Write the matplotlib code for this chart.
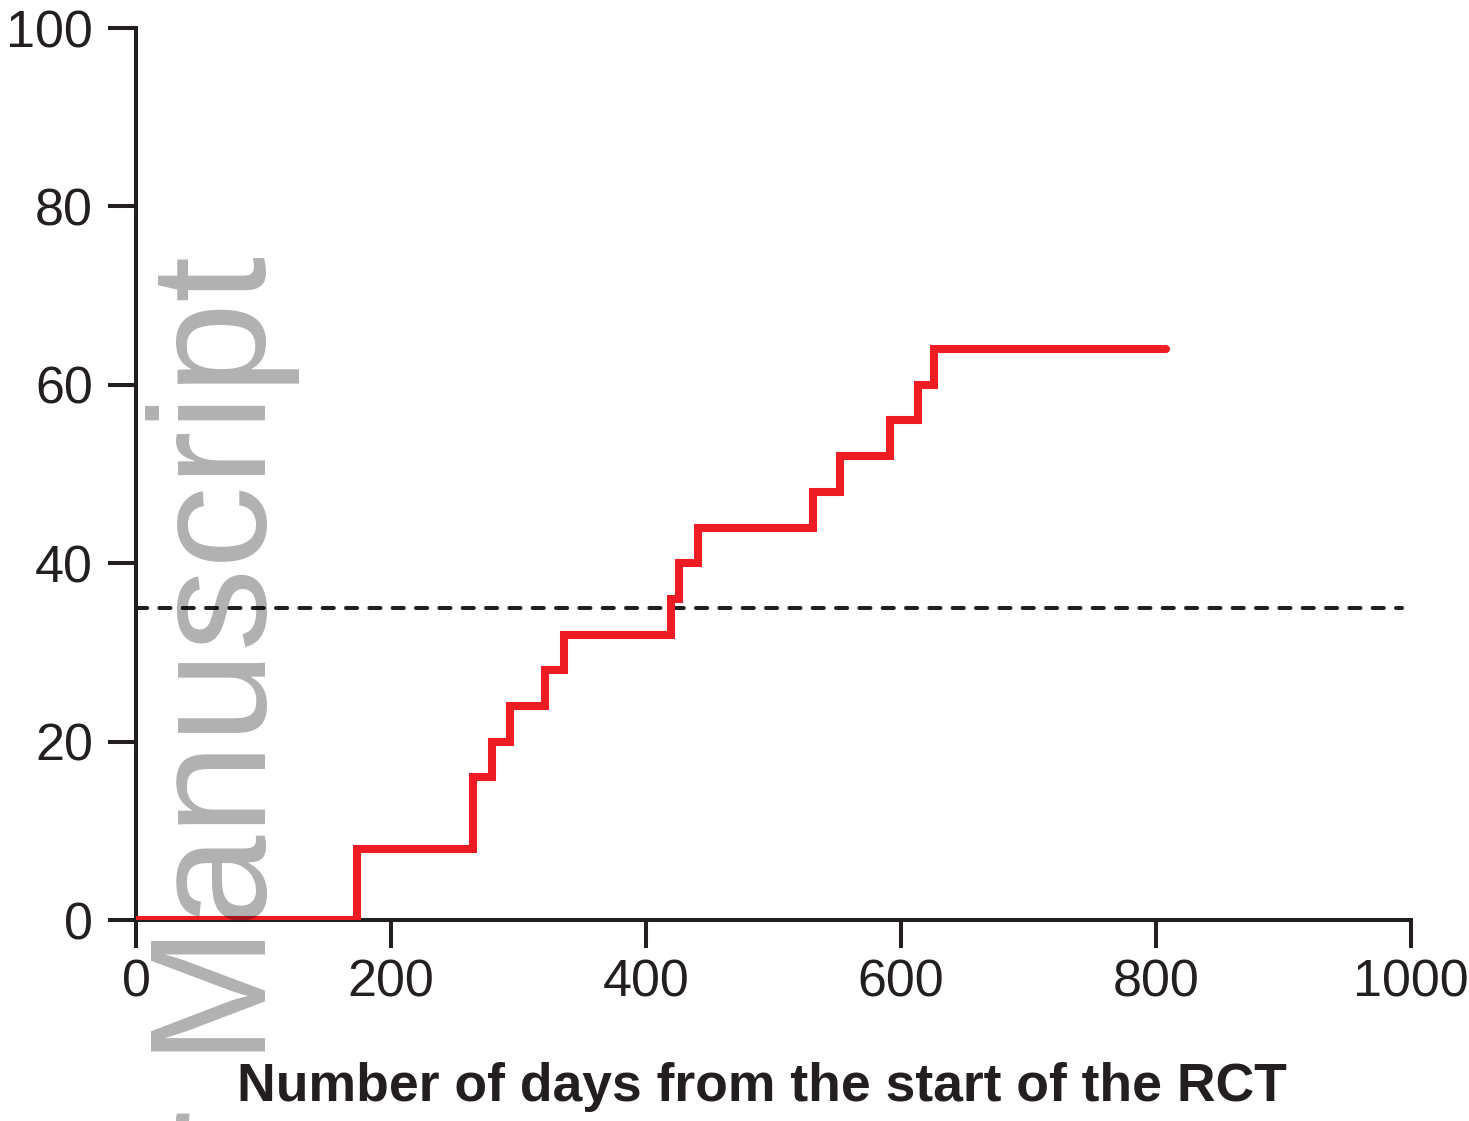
import numpy as np
import matplotlib.pyplot as plt

# Cumulative percentage over days (step function)
days = [0, 173, 264, 279, 293, 321, 336, 420, 426, 441, 531, 552, 591, 613, 626, 808]
pct = [0, 8, 16, 20, 24, 28, 32, 36, 40, 44, 48, 52, 56, 60, 64, 64]

threshold = 35
threshold_end = 993

xticks = [0, 200, 400, 600, 800, 1000]
yticks = [0, 20, 40, 60, 80, 100]

dark = '#231F20'
red = '#ED1C24'

plt.rcParams['font.family'] = ['Liberation Sans', 'DejaVu Sans']
plt.rcParams['lines.scale_dashes'] = False

fig = plt.figure(figsize=(14.69, 11.21), dpi=100)
ax = fig.add_axes([136 / 1469, 1 - 920 / 1121, (1411 - 136) / 1469, (920 - 28) / 1121])

# watermark, drawn over the plot like a stamp
fig.text(266 / 1469, 1 - 256 / 1121, 'Author Manuscript', rotation=90,
         rotation_mode='anchor', ha='right', va='baseline',
         fontsize=119, color='black', alpha=0.31, zorder=5)

ax.plot([0, threshold_end], [threshold, threshold], color=dark, lw=2.9,
        ls=(0, (8, 8.8)), dash_capstyle='round', zorder=2)
ax.step(days, pct, where='post', color=red, lw=5.8,
        solid_capstyle='round', solid_joinstyle='miter', zorder=3)

ax.set_xlim(0, 1000)
ax.set_ylim(0, 100)
ax.set_xticks(xticks)
ax.set_yticks(yticks)
ax.tick_params(direction='out', length=20, width=2.9, color=dark,
               labelsize=37.5, labelcolor=dark)
ax.tick_params(axis='y', pad=11)
ax.tick_params(axis='x', pad=8)
for side in ['top', 'right']:
    ax.spines[side].set_visible(False)
for side in ['left', 'bottom']:
    ax.spines[side].set_linewidth(2.9)
    ax.spines[side].set_color(dark)
ax.patch.set_alpha(0)

fig.text(762 / 1469, 1 - 1101 / 1121, 'Number of days from the start of the RCT',
         ha='center', va='baseline', fontsize=38.5, fontweight='bold', color=dark)

fig.savefig('out.png', dpi=100)
